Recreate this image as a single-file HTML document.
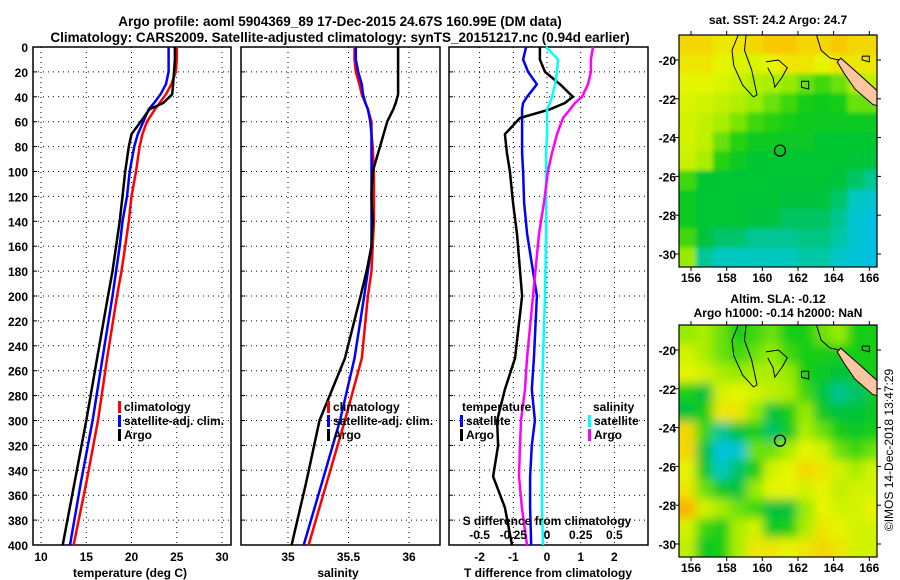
<!DOCTYPE html>
<html><head><meta charset="utf-8"><style>
body{margin:0;background:#fff}
svg{display:block;font-family:"Liberation Sans",sans-serif;font-weight:bold}
</style></head><body>
<svg id="c" width="900" height="580" viewBox="0 0 900 580">
<text x="340" y="26" text-anchor="middle" font-size="13.5">Argo profile: aoml 5904369_89 17-Dec-2015 24.67S 160.99E (DM data)</text>
<text x="340" y="42" text-anchor="middle" font-size="13.5">Climatology: CARS2009. Satellite-adjusted climatology: synTS_20151217.nc (0.94d earlier)</text>
<text x="778" y="24" text-anchor="middle" font-size="12">sat. SST: 24.2 Argo: 24.7</text>
<text x="778" y="303" text-anchor="middle" font-size="12">Altim. SLA: -0.12</text>
<text x="778" y="317" text-anchor="middle" font-size="12">Argo h1000: -0.14 h2000: NaN</text>
<text transform="translate(893,450) rotate(-90)" text-anchor="middle" font-size="12" font-weight="normal">©IMOS 14-Dec-2018 13:47:29</text>
</svg>
<script>
// ---- profile data ----
const depthsA = [0,10,20,30,38,45,50,60,70,80,100,120,140,160,180,200,250,300,350,400];
const tempArgo = [24.8,24.8,24.7,24.6,24.5,23.5,22.0,21.0,20.0,19.7,19.3,19.0,18.7,18.3,17.9,17.4,16.2,15.0,13.7,12.4];
const tempSat  = [24.1,24.1,24.1,23.8,23.2,22.5,21.9,21.3,20.7,20.3,19.8,19.5,19.0,18.7,18.3,17.9,16.8,15.7,14.4,13.2];
const tempClim = [25.0,25.0,24.9,24.4,23.8,23.1,22.6,21.7,21.2,20.9,20.5,20.0,19.7,19.3,18.9,18.4,17.3,16.3,15.0,13.6];
const salArgo = [35.91,35.91,35.91,35.91,35.91,35.89,35.87,35.82,35.79,35.76,35.70,35.69,35.70,35.69,35.65,35.60,35.47,35.26,35.15,35.03];
const salSat  = [35.56,35.56,35.58,35.61,35.62,35.64,35.66,35.68,35.69,35.69,35.69,35.69,35.69,35.69,35.66,35.63,35.55,35.43,35.28,35.13];
const salClim = [35.55,35.55,35.56,35.59,35.61,35.64,35.66,35.69,35.69,35.70,35.71,35.71,35.71,35.70,35.69,35.66,35.61,35.47,35.32,35.17];
const depthsD = [0,10,20,30,40,45,50,57,70,85,100,125,150,200,250,275,300,320,345,370,400];
const dTArgo = [-0.21,-0.21,-0.06,0.39,0.77,0.53,0.09,-0.80,-1.25,-1.19,-1.10,-1.01,-0.89,-0.74,-0.95,-1.25,-1.48,-1.45,-1.60,-1.25,-1.04];
const dTSat  = [-0.62,-0.71,-0.56,-0.30,-0.59,-0.71,-0.74,-0.74,-0.74,-0.74,-0.71,-0.68,-0.59,-0.30,-0.39,-0.45,-0.36,-0.45,-0.50,-0.50,-0.47];
const dSSat  = [-0.007,0.082,0.074,0.059,0.037,0.022,0.0,0.0,0.0,-0.007,-0.007,-0.007,-0.007,-0.015,-0.03,-0.037,-0.037,-0.037,-0.037,-0.037,-0.03];
const dSArgo = [0.341,0.326,0.326,0.304,0.26,0.208,0.171,0.119,0.074,0.037,0.007,-0.022,-0.059,-0.104,-0.148,-0.163,-0.193,-0.2,-0.208,-0.186,-0.148];
const depthTicks = [0,20,40,60,80,100,120,140,160,180,200,220,240,260,280,300,320,340,360,380,400];
const tempTicks = [10,15,20,25,30];
const salTicks = [35,35.5,36];
const salTickLabels = ["35","35.5","36"];
const dTTicks = [-2,-1,0,1,2];
const dSTicks = [-0.5,-0.25,0,0.25,0.5];
const dSTickLabels = ["-0.5","-0.25","0","0.25","0.5"];
// ---- map data (rows lat -18.7 → -30.7, cols lon 155.4 → 166.6) ----
const sstGrid = [
[.85,.85,.8,.8,.85,.9,.9,.85,.85,.9,.85,.85],
[.8,.8,.75,.72,.72,.75,.8,.8,.75,.8,.8,.8],
[.75,.75,.72,.68,.62,.6,.55,.5,.45,.5,.6,.65],
[.72,.7,.66,.62,.56,.5,.45,.4,.38,.4,.5,.5],
[.7,.66,.6,.52,.45,.42,.4,.38,.37,.37,.37,.37],
[.7,.65,.5,.42,.37,.36,.35,.35,.33,.33,.33,.33],
[.68,.6,.42,.36,.33,.33,.33,.33,.33,.33,.32,.3],
[.45,.33,.32,.32,.32,.32,.32,.32,.32,.3,.25,.2],
[.38,.32,.32,.32,.32,.32,.3,.3,.3,.25,.15,.1],
[.38,.32,.32,.32,.3,.3,.26,.26,.26,.2,.1,.05],
[.45,.3,.25,.25,.2,.2,.2,.22,.22,.18,.1,.05],
[.55,.2,.15,.15,.15,.15,.15,.18,.18,.12,.08,.05]];
const slaGrid = [
[.55,.6,.5,.4,.45,.5,.4,.4,.5,.55,.4,.4],
[.7,.6,.5,.45,.5,.55,.45,.4,.4,.4,.4,.4],
[.75,.7,.6,.55,.6,.6,.55,.4,.35,.3,.35,.4],
[.4,.3,.7,.75,.7,.65,.6,.45,.3,.2,.25,.35],
[.3,.4,.8,.8,.55,.3,.4,.55,.35,.3,.3,.35],
[.85,.45,.2,.3,.4,.25,.35,.6,.5,.4,.35,.4],
[.85,.3,.05,.1,.5,.5,.6,.75,.7,.5,.45,.5],
[.75,.35,.15,.25,.4,.7,.75,.85,.8,.7,.6,.7],
[.8,.5,.35,.3,.55,.75,.75,.7,.75,.65,.7,.7],
[.95,.7,.6,.5,.45,.3,.3,.55,.75,.7,.7,.75],
[.7,.45,.4,.6,.7,.35,.4,.6,.8,.75,.7,.7],
[.65,.35,.4,.6,.8,.8,.75,.8,.85,.8,.7,.7]];
const lonTicks = [156,158,160,162,164,166];
const latTicks = [-20,-22,-24,-26,-28,-30];
const argoPos = [160.99,-24.67];

const NS='http://www.w3.org/2000/svg';
const svg=document.getElementById('c');
function mk(tag,attrs,parent){const e=document.createElementNS(NS,tag);for(const k in attrs)e.setAttribute(k,attrs[k]);(parent||svg).appendChild(e);return e;}

const top0=47, bot0=545;
const yD=d=>top0+(bot0-top0)*d/400;
function lin(d0,d1,r0,r1){return v=>r0+(v-d0)/(d1-d0)*(r1-r0);}

function panel(name,x0,x1,xs,xt,xtl){
  const g=mk('g',{});
  
  
  xt.forEach((v,i)=>{const x=xs(v);
    const l=mk('line',{x1:x,x2:x,y1:top0,y2:bot0,stroke:'#000','stroke-dasharray':'1,4','stroke-width':1},g);
    
    
    const t=mk('text',{x:x,y:bot0+16,'text-anchor':'middle','font-size':12},g);
    
    
    t.textContent=xtl?xtl[i]:String(v);
  });
  depthTicks.forEach(d=>{const y=yD(d);
    if(d>0&&d<400){const l=mk('line',{x1:x0,x2:x1,y1:y,y2:y,stroke:'#000','stroke-dasharray':'1,4','stroke-width':1},g);
    
    }
    const tk=mk('line',{x1:x0,x2:x0+4,y1:y,y2:y,stroke:'#000'},g);
    
    
  });
  const r=mk('rect',{x:x0,y:top0,width:x1-x0,height:bot0-top0,fill:'none',stroke:'#000','stroke-width':1.5},g);
  
  
  return g;
}
function series(name,g,vals,depths,xs,color){
  const pts=vals.map((v,i)=>xs(v).toFixed(1)+','+yD(depths[i]).toFixed(1)).join(' ');
  const p=mk('polyline',{points:pts,fill:'none',stroke:color,'stroke-width':2.5,'stroke-linejoin':'round'},g);
  
  
}
function label(g,txt,x,y,name,anchor,size){
  const t=mk('text',{x:x,y:y,'font-size':size||12,'text-anchor':anchor||'start'},g);
  
  
  t.textContent=txt;return t;
}
function legItem(g,x,y,color,txt,name){
  const m=mk('rect',{x:x,y:y-10,width:3,height:12,fill:color},g);
  
  
  label(g,txt,x+6,y,name);
}

depthTicks.forEach(d=>{
  const t=mk('text',{x:28,y:yD(d)+5,'text-anchor':'end','font-size':12});
  
  
  t.textContent=String(d);
});

const xT=lin(10,30,41,222);
const g1=panel('temperature',33,231,xT,tempTicks,null);
series('temp-climatology-line',g1,tempClim,depthsA,xT,'#f00');
series('temp-satellite-line',g1,tempSat,depthsA,xT,'#00f');
series('temp-argo-line',g1,tempArgo,depthsA,xT,'#000');
label(g1,'temperature (deg C)',130,577,'temperature-axis-title','middle');
legItem(g1,118,411,'#f00','climatology','legend-climatology');
legItem(g1,118,425,'#00f','satellite-adj. clim.','legend-satellite');
legItem(g1,118,439,'#000','Argo','legend-argo');

const xS=lin(35,36,288,409);
const g2=panel('salinity',241,440,xS,salTicks,salTickLabels);
series('sal-climatology-line',g2,salClim,depthsA,xS,'#f00');
series('sal-satellite-line',g2,salSat,depthsA,xS,'#00f');
series('sal-argo-line',g2,salArgo,depthsA,xS,'#000');
label(g2,'salinity',338,577,'salinity-axis-title','middle');
legItem(g2,327,411,'#f00','climatology','legend-climatology');
legItem(g2,327,425,'#00f','satellite-adj. clim.','legend-satellite');
legItem(g2,327,439,'#000','Argo','legend-argo');

const xDT=lin(0,1,547,580.7);
const xDS=lin(0,0.25,547,580.7);
const g3=panel('difference',449,648,xDT,dTTicks,null);
series('dt-satellite-line',g3,dTSat,depthsD,xDT,'#00f');
series('dt-argo-line',g3,dTArgo,depthsD,xDT,'#000');
series('ds-satellite-line',g3,dSSat,depthsD,xDS,'#0ff');
series('ds-argo-line',g3,dSArgo,depthsD,xDS,'#f0f');
label(g3,'T difference from climatology',548,577,'t-diff-axis-title','middle');
label(g3,'S difference from climatology',547,525,'s-diff-axis-title','middle');
dSTicks.forEach((v,i)=>label(g3,dSTickLabels[i],xDS(v),539,'s-diff-tick-label','middle'));
label(g3,'temperature',462,411,'legend-temperature-title');
legItem(g3,460,425,'#00f','satellite','legend-t-satellite');
legItem(g3,460,439,'#000','Argo','legend-t-argo');
label(g3,'salinity',593,411,'legend-salinity-title');
legItem(g3,588,425,'#0ff','satellite','legend-s-satellite');
legItem(g3,588,439,'#f0f','Argo','legend-s-argo');

function cmap(v){
  const stops=[[0,[0,190,240]],[0.15,[0,200,190]],[0.3,[0,195,60]],[0.4,[20,205,20]],[0.55,[150,235,0]],[0.75,[230,245,0]],[0.9,[250,200,0]],[1,[250,160,0]]];
  for(let i=1;i<stops.length;i++){if(v<=stops[i][0]){const a=stops[i-1],b=stops[i],t=(v-a[0])/(b[0]-a[0]);
    return 'rgb('+a[1].map((c,j)=>Math.round(c+(b[1][j]-c)*t)).join(',')+')';}}
  return 'rgb(250,160,0)';
}
let clipN=0;
function map(name,grid,y0,blur){
  const x0=679,x1=877,y1=y0+232;
  const X=lin(156,166,691,869.3), Y=lin(-20,-30,y0+25,y0+219);
  const g=mk('g',{});
  
  
  const id='clip'+(clipN++);
  const defs=mk('defs',{},g);
  const cp=mk('clipPath',{id:id},defs);
  mk('rect',{x:x0,y:y0,width:x1-x0,height:y1-y0},cp);
  if(blur){const f=mk('filter',{id:id+'b',x:'-10%',y:'-10%',width:'120%',height:'120%'},defs);mk('feGaussianBlur',{stdDeviation:blur},f);}
  const cg=mk('g',{'clip-path':'url(#'+id+')'},g);
  const hg=mk('g',blur?{filter:'url(#'+id+'b)'}:{},cg);
  const nr=grid.length,nc=grid[0].length;
  const lon0=155.33,lon1=166.67,lat0=-18.71,lat1=-30.67;
  for(let r=-1;r<=nr;r++)for(let c=-1;c<=nc;c++){
    const rr=Math.min(nr-1,Math.max(0,r)),cc=Math.min(nc-1,Math.max(0,c));
    const lo=lon0+(lon1-lon0)*c/nc, la=lat0+(lat1-lat0)*r/nr;
    const xa=X(lo),ya=Y(la),xb=X(lon0+(lon1-lon0)*(c+1)/nc),yb=Y(lat0+(lat1-lat0)*(r+1)/nr);
    const cell=mk('rect',{x:xa.toFixed(1),y:ya.toFixed(1),width:(xb-xa+0.6).toFixed(1),height:(yb-ya+0.6).toFixed(1),fill:cmap(grid[rr][cc])},hg);
    
    
  }
  const P=a=>a.map(p=>X(p[0]).toFixed(1)+','+Y(p[1]).toFixed(1)).join(' ');
  const nc1=mk('polygon',{points:P([[164.4,-19.9],[165.5,-20.8],[166.7,-21.8],[166.7,-22.4],[166.2,-22.3],[165.2,-21.5],[164.6,-20.7],[164.2,-20.1]]),fill:'#fbc6a0',stroke:'#000','stroke-width':1},cg);
  
  
  const coasts=[[[158.7,-18.6],[158.3,-19.5],[158.4,-20.3],[158.9,-21.3],[159.5,-21.9],[159.7,-21.8],[159.4,-20.5],[159.0,-19.5],[159.1,-18.6]],
    [[160.2,-20.1],[160.9,-20.0],[161.4,-20.4],[161.1,-20.9],[160.7,-21.4],[160.6,-20.9],[160.3,-20.4]],
    [[163.0,-18.6],[163.3,-19.5],[163.8,-19.9],[164.3,-20.0]],
    [[162.2,-21.1],[162.6,-21.1],[162.6,-21.5],[162.2,-21.4],[162.2,-21.1]],
    [[165.6,-19.8],[166.0,-19.8],[166.0,-20.1],[165.6,-20.0],[165.6,-19.8]]];
  coasts.forEach(c=>{const p=mk('polyline',{points:P(c),fill:'none',stroke:'#000','stroke-width':1},cg);
    
    });
  const ci=mk('circle',{cx:X(argoPos[0]),cy:Y(argoPos[1]),r:5.5,fill:'none',stroke:'#000','stroke-width':1.3},g);
  
  
  const fr=mk('rect',{x:x0,y:y0,width:x1-x0,height:y1-y0,fill:'none',stroke:'#000','stroke-width':1.2},g);
  
  
  lonTicks.forEach(v=>{
    mk('line',{x1:X(v),x2:X(v),y1:y0-4,y2:y0,stroke:'#000'},g);
    mk('line',{x1:X(v),x2:X(v),y1:y1,y2:y1+4,stroke:'#000'},g);
    label(g,String(v),X(v),y1+15,'lon-tick-label','middle');
  });
  latTicks.forEach(v=>{
    mk('line',{x1:x0-4,x2:x0,y1:Y(v),y2:Y(v),stroke:'#000'},g);
    mk('line',{x1:x1,x2:x1+4,y1:Y(v),y2:Y(v),stroke:'#000'},g);
    label(g,String(v),x0-3,Y(v)+5,'lat-tick-label','end');
  });
}
map('sst-map',sstGrid,35,2);
map('sla-map',slaGrid,325,5);
</script>
</body></html>
